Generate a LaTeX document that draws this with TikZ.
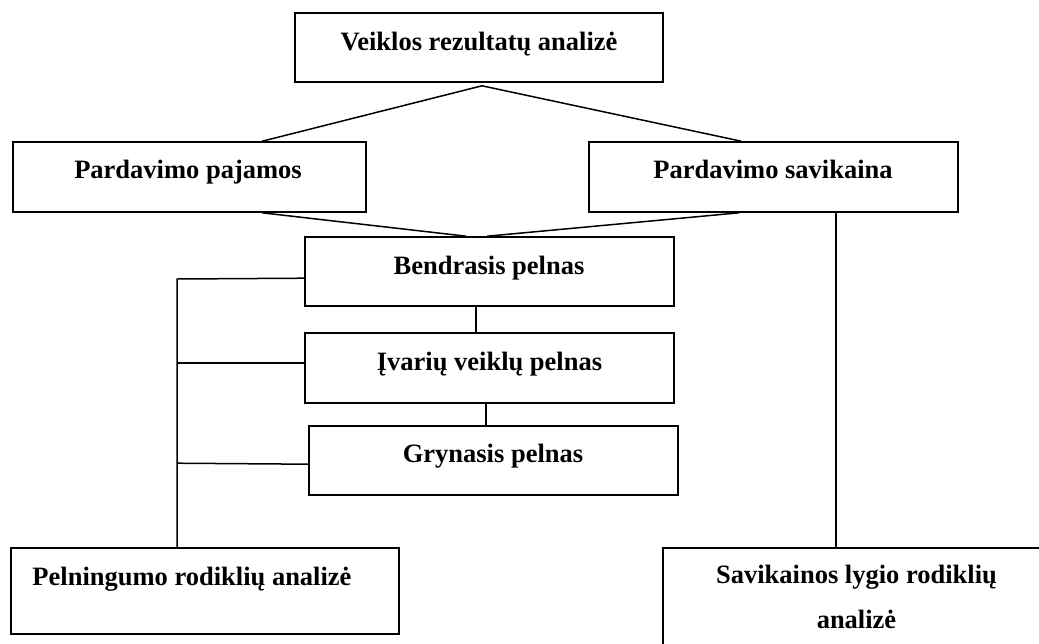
\documentclass[tikz,border=0pt]{standalone}
\usepackage{fontspec}
\setmainfont{Liberation Serif}
\begin{document}
\begin{tikzpicture}[x=1pt,y=-1pt,
  box/.style={draw, line width=1.6pt, rectangle, inner sep=0pt},
  txt/.style={font=\fontsize{26.5}{45}\selectfont\bfseries, anchor=base, inner sep=0pt},
  ln/.style={line width=1.5pt}]
\useasboundingbox (0,0) rectangle (1039,643);
\clip (0,0) rectangle (1039,643);
% boxes
\node[box, minimum width=368pt, minimum height=69pt] (top) at (479,47.5) {};
\node[box, minimum width=353pt, minimum height=70pt] (pp) at (189.5,177) {};
\node[box, minimum width=369pt, minimum height=70pt] (ps) at (773.5,177) {};
\node[box, minimum width=369pt, minimum height=69pt] (bp) at (489.5,271.5) {};
\node[box, minimum width=369pt, minimum height=70pt] (iv) at (489.5,368) {};
\node[box, minimum width=369pt, minimum height=69pt] (gr) at (493.5,460.5) {};
\node[box, minimum width=388pt, minimum height=86pt] (pr) at (205,591) {};
\node[box, minimum width=382pt, minimum height=102pt] (sl) at (854,599) {};
% texts
\node[txt] (topt) at (479,50) {Veiklos rezultatų analizė};
\node[txt] (ppt) at (188,178) {Pardavimo pajamos};
\node[txt] (pst) at (773,178) {Pardavimo savikaina};
\node[txt] (bpt) at (489,274) {Bendrasis pelnas};
\node[txt] (ivt) at (489.5,370) {Įvarių veiklų pelnas};
\node[txt] (grt) at (493,462) {Grynasis pelnas};
\node[txt] (prt) at (192,585) {Pelningumo rodiklių analizė};
\node[txt, align=center] (slt) at (856.5,628) {Savikainos lygio rodiklių\\analizė};
% connectors
\coordinate (apex) at ([xshift=3pt,yshift=-3pt]top.south);
\draw[ln] ([xshift=250pt]pp.north west) -- (apex) -- ([xshift=153pt]ps.north west);
\draw[ln] ([xshift=250pt]pp.south west) -- ([xshift=162pt]bp.north west);
\draw[ln] ([xshift=151pt]ps.south west) -- ([xshift=183pt]bp.north west);
\coordinate (spineT) at (177,279);
\draw[ln] ([yshift=-42pt]bp.north west) -- (spineT) -- (spineT |- pr.north);
\draw[ln] ([yshift=-31pt]iv.north west) coordinate (a2) -- (a2 -| spineT);
\draw[ln] ([yshift=-39pt]gr.north west) coordinate (a3) -- ([yshift=1pt]a3 -| spineT);
\draw[ln] ([xshift=172pt]bp.south west) -- ([xshift=172pt]iv.north west);
\draw[ln] ([xshift=182pt]iv.south west) -- ([xshift=178pt]gr.north west);
\draw[ln] ([xshift=248pt]ps.south west) -- ([xshift=174pt]sl.north west);
\end{tikzpicture}
\end{document}
